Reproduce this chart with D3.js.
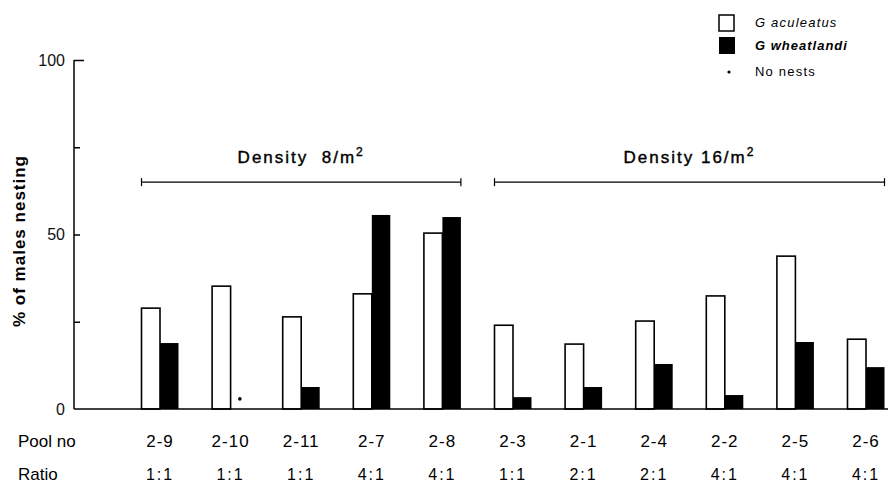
<!DOCTYPE html>
<html>
<head>
<meta charset="utf-8">
<script src="https://cdn.jsdelivr.net/npm/d3@7"></script>
<style>
    body { margin: 0; background: #fff; }
    svg { font-family: "Liberation Sans", Arial, sans-serif; }
</style>
</head>
<body>
<svg id="chart" width="890" height="483"></svg>
<script>
// ----- data
var pools = ["2-9", "2-10", "2-11", "2-7", "2-8", "2-3", "2-1", "2-4", "2-2", "2-5", "2-6"];
var ratios = ["1:1", "1:1", "1:1", "4:1", "4:1", "1:1", "2:1", "2:1", "4:1", "4:1", "4:1"];
var aculeatus = [28.9, 35.2, 26.4, 33.0, 50.4, 24.0, 18.6, 25.2, 32.4, 43.8, 20.0];
var wheatlandi = [18.9, null, 6.3, 55.6, 55.0, 3.4, 6.3, 12.9, 4.0, 19.2, 12.0];
var densityGroups = [
    { label: "Density  8/m", first: "2-9", last: "2-8" },
    { label: "Density 16/m", first: "2-3", last: "2-6" }
];
var yTicks = [0, 25, 50, 75, 100];

drawChart();

function drawChart() {
    var svg = d3.select("#chart");
    var barW = 18.5;

    var x = d3.scalePoint().domain(pools).range([160, 866]);
    var y = d3.scaleLinear().domain([0, 100]).range([409, 60]);
    var axisX = 74;

    // y axis (ticks point inward)
    var yAxis = svg.append("g")
        .attr("transform", "translate(" + axisX + ",0)")
        .call(d3.axisLeft(y)
            .tickValues(yTicks)
            .tickSizeInner(-6)
            .tickSizeOuter(0)
            .tickPadding(9)
            .tickFormat(function (d) { return d % 50 === 0 ? d : ""; }));
    yAxis.select(".domain").remove();
    yAxis.selectAll(".tick line").attr("stroke", "#000").attr("stroke-width", 1.5);
    yAxis.selectAll(".tick").filter(function (d) { return d === 0; }).select("line").remove();
    yAxis.selectAll(".tick").filter(function (d) { return d === 100; }).select("line").attr("x2", 10);
    yAxis.selectAll(".tick text")
        .attr("fill", "#111")
        .style("font-size", "16px");

    svg.append("line")
        .attr("x1", axisX).attr("x2", axisX)
        .attr("y1", y(0)).attr("y2", y(100))
        .attr("stroke", "#000").attr("stroke-width", 1.5);

    // y label
    svg.append("text")
        .attr("transform", "translate(25," + 241 + ") rotate(-90)")
        .attr("text-anchor", "middle")
        .style("font-size", "17px")
        .style("font-weight", "bold")
        .style("letter-spacing", "1px")
        .text("% of males nesting");

    // bars
    var rows = pools.map(function (p, i) {
        return { pool: p, ratio: ratios[i], a: aculeatus[i], w: wheatlandi[i] };
    });

    svg.selectAll(".bar-a")
        .data(rows)
        .enter().append("rect")
        .attr("class", "bar-a")
        .attr("x", function (d) { return x(d.pool) - barW; })
        .attr("y", function (d) { return y(d.a); })
        .attr("width", barW)
        .attr("height", function (d) { return y(0) - y(d.a); })
        .attr("fill", "#fff")
        .attr("stroke", "#000")
        .attr("stroke-width", 1.6);

    svg.selectAll(".bar-w")
        .data(rows.filter(function (d) { return d.w !== null; }))
        .enter().append("rect")
        .attr("class", "bar-w")
        .attr("x", function (d) { return x(d.pool); })
        .attr("y", function (d) { return y(d.w); })
        .attr("width", barW)
        .attr("height", function (d) { return y(0) - y(d.w); })
        .attr("fill", "#000");

    // "no nests" dot
    svg.selectAll(".nonest")
        .data(rows.filter(function (d) { return d.w === null; }))
        .enter().append("circle")
        .attr("class", "nonest")
        .attr("cx", function (d) { return x(d.pool) + barW / 2; })
        .attr("cy", y(2.9))
        .attr("r", 1.8)
        .attr("fill", "#000");

    // baseline
    svg.append("line")
        .attr("x1", axisX).attr("x2", 888)
        .attr("y1", y(0)).attr("y2", y(0))
        .attr("stroke", "#000").attr("stroke-width", 1.5);

    // density brackets
    var by = y(65);
    densityGroups.forEach(function (g) {
        var x1 = x(g.first) - barW, x2 = x(g.last) + barW;
        svg.append("line").attr("x1", x1).attr("x2", x2).attr("y1", by).attr("y2", by)
            .attr("stroke", "#000").attr("stroke-width", 1.4);
        [x1, x2].forEach(function (xx) {
            svg.append("line").attr("x1", xx).attr("x2", xx).attr("y1", by - 4).attr("y2", by + 4)
                .attr("stroke", "#000").attr("stroke-width", 1.2);
        });
        var t = svg.append("text")
            .attr("x", (x1 + x2) / 2)
            .attr("y", by - 19)
            .attr("text-anchor", "middle")
            .style("font-size", "17px")
            .style("letter-spacing", "2px")
            .attr("stroke", "#000")
            .attr("stroke-width", 0.4)
            .attr("xml:space", "preserve")
            .text(g.label);
        t.append("tspan").attr("dy", -7).style("font-size", "12px").text("2");
    });

    // bottom labels
    var labSize = "17px";
    svg.append("text").attr("x", 18).attr("y", 447).style("font-size", labSize).text("Pool no");
    svg.append("text").attr("x", 18).attr("y", 480).style("font-size", labSize).text("Ratio");

    svg.selectAll(".pool-lab")
        .data(rows)
        .enter().append("text")
        .attr("class", "pool-lab")
        .attr("x", function (d) { return x(d.pool); })
        .attr("y", 447)
        .attr("text-anchor", "middle")
        .style("font-size", labSize)
        .style("letter-spacing", "1px")
        .text(function (d) { return d.pool; });

    svg.selectAll(".ratio-lab")
        .data(rows)
        .enter().append("text")
        .attr("class", "ratio-lab")
        .attr("x", function (d) { return x(d.pool); })
        .attr("y", 480)
        .attr("text-anchor", "middle")
        .style("font-size", "16px")
        .style("letter-spacing", "2px")
        .text(function (d) { return d.ratio; });

    // legend
    var legend = svg.append("g").attr("transform", "translate(719,15)");
    legend.append("rect").attr("x", 0).attr("y", 0).attr("width", 15).attr("height", 16)
        .attr("fill", "#fff").attr("stroke", "#000").attr("stroke-width", 1.5);
    legend.append("rect").attr("x", 0).attr("y", 22).attr("width", 16).attr("height", 17)
        .attr("fill", "#000");
    legend.append("circle").attr("cx", 10).attr("cy", 57).attr("r", 1.6).attr("fill", "#000");
    legend.append("text").attr("x", 36).attr("y", 12).style("font-size", "13px")
        .style("font-style", "italic").style("letter-spacing", "1.2px").text("G aculeatus");
    legend.append("text").attr("x", 36).attr("y", 35).style("font-size", "13px")
        .style("font-style", "italic").style("font-weight", "bold")
        .style("letter-spacing", "1px").text("G wheatlandi");
    legend.append("text").attr("x", 36).attr("y", 61).style("font-size", "13px")
        .style("letter-spacing", "1.2px").text("No nests");
}
</script>
</body>
</html>
